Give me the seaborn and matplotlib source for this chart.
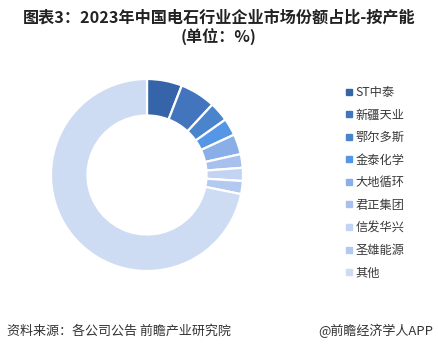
import seaborn as sns
import matplotlib.pyplot as plt
from matplotlib.lines import Line2D

# 2023年中国电石行业企业市场份额（按产能，%）
companies = ['ST中泰', '新疆天业', '鄂尔多斯', '金泰化学', '大地循环',
             '君正集团', '信发华兴', '圣雄能源', '其他']
shares = [5.9, 6.0, 3.3, 2.9, 3.4, 2.3, 2.2, 2.2, 71.8]
colors = ['#3565a8', '#4275bd', '#4a84cc', '#5597e6', '#8aaee8',
          '#a7c0ee', '#c3d3f3', '#b4c9f0', '#cddbf3']

sns.set_theme(style='white')
plt.rcParams['font.family'] = ['Noto Sans CJK SC', 'DejaVu Sans']

fig = plt.figure(figsize=(4.38, 3.51), dpi=100)
fig.patch.set_facecolor('white')

# donut
ax = fig.add_axes([(147 - 96) / 438, (351 - 175 - 96) / 351, 192 / 438, 192 / 351])
wedges, _ = ax.pie(shares, colors=colors, startangle=90, counterclock=False,
                   radius=1.0,
                   wedgeprops=dict(width=0.38, edgecolor='white', linewidth=1.6))
ax.set_xlim(-1, 1)
ax.set_ylim(-1, 1)
ax.set_aspect('equal')
ax.axis('off')

# legend
handles = [Line2D([0], [0], marker='s', linestyle='', markersize=4,
                  markerfacecolor=c, markeredgecolor=c) for c in colors]
fig.legend(handles, companies, loc='upper left',
           bbox_to_anchor=(339 / 438, 1 - 80 / 351), frameon=False,
           fontsize=8.8, labelcolor='#3a3a3a', handlelength=0.6,
           handletextpad=0.25, labelspacing=0.78, borderpad=0)

# title
fig.text(0.5, 1 - 18 / 351, '图表3：2023年中国电石行业企业市场份额占比-按产能',
         ha='center', va='center', fontsize=11.6, fontweight='bold', color='#222222')
fig.text(0.5, 1 - 37 / 351, '(单位：%)',
         ha='center', va='center', fontsize=11.6, fontweight='bold', color='#222222')

# footer
fig.text(7 / 438, 1 - 331 / 351, '资料来源：各公司公告 前瞻产业研究院',
         ha='left', va='center', fontsize=9.4, color='#333333')
fig.text(433 / 438, 1 - 331 / 351, '@前瞻经济学人APP',
         ha='right', va='center', fontsize=9.4, color='#333333')

fig.savefig('out.png', dpi=100, facecolor='white')
